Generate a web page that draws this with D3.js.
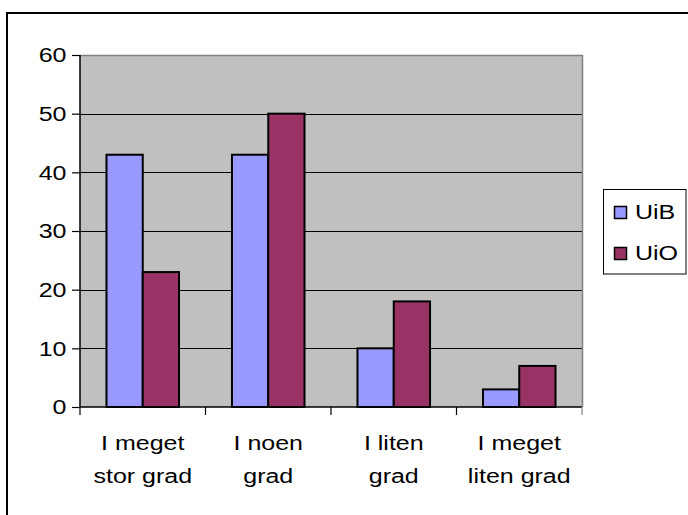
<!DOCTYPE html>
<html>
<head>
<meta charset="utf-8">
<script src="https://cdn.jsdelivr.net/npm/d3@7"></script>
<style>
  html, body { margin: 0; padding: 0; background: #fff; }
  svg { display: block; }
  text { font-family: "Liberation Sans", Arial, sans-serif; fill: #000; }
</style>
</head>
<body>
<svg id="chart" width="688" height="515"></svg>
<script>
const categories = [["I meget", "stor grad"], ["I noen", "grad"], ["I liten", "grad"], ["I meget", "liten grad"]];
const seriesNames = ["UiB", "UiO"];
const uibValues = [43, 43, 10, 3];
const uioValues = [23, 50, 18, 7];
const yTicks = [0, 10, 20, 30, 40, 50, 60];
const colors = ["#9999FF", "#993366"];

const svg = d3.select("#chart");
const W = 688, H = 515;
const plot = { left: 80, right: 582, top: 55, bottom: 407 };
const SX = 1.25, FS = 20;

// outer border (only left and top visible)
svg.append("rect").attr("x", 7).attr("y", 13).attr("width", W + 20).attr("height", H + 20)
  .attr("fill", "none").attr("stroke", "#000").attr("stroke-width", 2);

const catIdx = categories.map((d, i) => i);
const x0 = d3.scaleBand().domain(catIdx).range([plot.left, plot.right]).padding(0);
const x1 = d3.scaleBand().domain(seriesNames).range([0, x0.bandwidth()]).paddingInner(0).paddingOuter(0.73);
const y = d3.scaleLinear().domain([0, 60]).range([plot.bottom, plot.top]);

// plot background
svg.append("rect").attr("x", plot.left).attr("y", plot.top)
  .attr("width", plot.right - plot.left).attr("height", plot.bottom - plot.top)
  .attr("fill", "#C0C0C0");

// gridlines
svg.append("g").selectAll("line").data(yTicks.filter(t => t > 0 && t < 60)).join("line")
  .attr("x1", plot.left).attr("x2", plot.right)
  .attr("y1", d => Math.round(y(d)) + 0.5).attr("y2", d => Math.round(y(d)) + 0.5)
  .attr("stroke", "#000").attr("stroke-width", 1);

// plot border top/right (gray)
svg.append("path")
  .attr("d", `M${plot.left},${plot.top + 0.5}H${plot.right + 0.5}V${plot.bottom}`)
  .attr("fill", "none").attr("stroke", "#808080").attr("stroke-width", 1.5);

// bars
const data = catIdx.map(i => ({ i, vals: [uibValues[i], uioValues[i]] }));
const groups = svg.append("g").selectAll("g").data(data).join("g")
  .attr("transform", d => `translate(${x0(d.i)},0)`);
groups.selectAll("rect").data(d => d.vals.map((v, k) => ({ v, k }))).join("rect")
  .attr("x", d => x1(seriesNames[d.k]))
  .attr("y", d => y(d.v))
  .attr("width", x1.bandwidth())
  .attr("height", d => y(0) - y(d.v))
  .attr("fill", d => colors[d.k])
  .attr("stroke", "#000").attr("stroke-width", 2);

// y axis
const yAxis = d3.axisLeft(y).tickValues(yTicks).tickSize(8).tickFormat("");
const yg = svg.append("g").attr("transform", `translate(${plot.left},0)`).call(yAxis);
yg.select(".domain").attr("stroke", "#000").attr("stroke-width", 1.5).attr("d", `M0,${plot.top}V${plot.bottom}`);
yg.selectAll(".tick line").attr("stroke", "#000").attr("stroke-width", 1.2);
svg.append("g").selectAll("g").data(yTicks).join("g")
  .attr("transform", d => `translate(${plot.left - 13.5},${y(d)}) scale(${SX},1)`)
  .append("text").attr("text-anchor", "end").attr("dy", "0.36em")
  .style("font-size", FS + "px").text(d => d);

// x axis
const xEdges = catIdx.map(i => x0(i)).concat([plot.right]);
svg.append("line").attr("x1", plot.left).attr("x2", plot.right)
  .attr("y1", plot.bottom).attr("y2", plot.bottom)
  .attr("stroke", "#000").attr("stroke-width", 1.5);
svg.append("g").selectAll("line").data(xEdges).join("line")
  .attr("x1", d => d).attr("x2", d => d)
  .attr("y1", plot.bottom).attr("y2", plot.bottom + 8)
  .attr("stroke", d => d === plot.right ? "#808080" : "#000").attr("stroke-width", 1.2);

// category labels
const lab = svg.append("g").selectAll("g").data(data).join("g")
  .attr("transform", d => `translate(${x0(d.i) + x0.bandwidth() / 2},0)`);
lab.each(function (d) {
  const g = d3.select(this);
  categories[d.i].forEach((line, li) => {
    g.append("g").attr("transform", `translate(0,${450 + li * 33}) scale(${SX},1)`)
      .append("text").attr("text-anchor", "middle")
      .style("font-size", FS + "px").text(line);
  });
});

// legend
const leg = svg.append("g");
leg.append("rect").attr("x", 603.5).attr("y", 189.5).attr("width", 82.5).attr("height", 84.5)
  .attr("fill", "#fff").attr("stroke", "#000").attr("stroke-width", 1);
seriesNames.forEach((s, k) => {
  const base = 219 + k * 41;
  leg.append("rect").attr("x", 614.5).attr("y", base - 12.5).attr("width", 12).attr("height", 12)
    .attr("fill", colors[k]).attr("stroke", "#000").attr("stroke-width", 1.5);
  leg.append("g").attr("transform", `translate(635,${base}) scale(${SX},1)`)
    .append("text").style("font-size", FS + "px").text(s);
});
</script>
</body>
</html>
